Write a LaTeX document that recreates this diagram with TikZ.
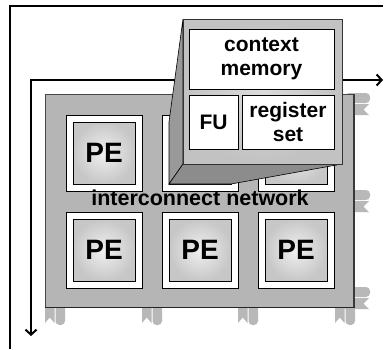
\documentclass[tikz,border=0pt]{standalone}
\usepackage{fontspec}
\setmainfont{Liberation Sans}
\usetikzlibrary{arrows.meta}

\definecolor{panelgray}{gray}{0.71}
\definecolor{tabgray}{gray}{0.72}
\definecolor{pelight}{gray}{0.94}
\definecolor{pedark}{gray}{0.78}
\definecolor{sidegray}{gray}{0.60}
\definecolor{floorgray}{gray}{0.55}
\definecolor{facelight}{gray}{0.86}
\definecolor{facedark}{gray}{0.76}

% wire stub leaving the array at the bottom (x = left edge)
\newcommand\bottomtab[1]{%
  \fill[tabgray] (#1,300) -- (#1+9.5,300) -- (#1+9.5,323) -- (#1+4.75,317.5) -- (#1,323) -- cycle;
  \fill[tabgray, rounded corners=4pt] (#1+10.5,300) rectangle (#1+20,325);
}
% wire stub leaving the array at the right (y = top edge)
\newcommand\sidetab[1]{%
  \fill[tabgray, rounded corners=4pt] (345,#1) rectangle (370,#1+10);
  \fill[tabgray] (345,#1+11) -- (369,#1+11) -- (363.5,#1+16.5) -- (369,#1+22) -- (345,#1+22) -- cycle;
}

\tikzset{
  frameline/.style={line width=2pt, black},
  axisline/.style={line width=2pt, black, {Straight Barb[length=5pt,width=11pt]}-{Straight Barb[length=5pt,width=11pt]}},
  tile/.style={draw=black, line width=0.9pt, fill=white, minimum size=76pt, inner sep=0pt},
  pecore/.style={draw=black, line width=0.9pt, inner color=pelight, outer color=pedark,
    minimum size=62pt, inner sep=0pt, font=\bfseries\fontsize{28}{30}\selectfont},
  cellbox/.style={draw=black, line width=0.8pt, fill=white, inner sep=0pt, align=center,
    font=\bfseries\fontsize{21}{23.5}\selectfont},
  label/.style={font=\bfseries\fontsize{21.5}{24}\selectfont, inner sep=0pt},
}

\begin{document}
\begin{tikzpicture}[x=1pt,y=-1pt]
\useasboundingbox (0,0) rectangle (388,349);
\fill[white] (0,0) rectangle (388,349);

% outer frame
\draw[frameline] (383,6) -- (10,6) -- (10,349);

% coordinate axes
\coordinate (axisdown) at (31,336);
\coordinate (axiscorner) at (31,80);
\coordinate (axisright) at (383,80);
\draw[axisline] (axisdown) -- (axiscorner) -- (axisright);

% wire stubs (drawn first so the array hides their upper ends)
\foreach \xx in {45,142,238,335} {\bottomtab{\xx}}
\foreach \yy in {93,190,287} {\sidetab{\yy}}

% array background
\fill[panelgray] (45,94) rectangle (355,308);
\draw[gray!55!black, line width=0.6pt] (45,308) -- (45,94) -- (354,94);
\draw[gray!45!black, line width=2pt] (354,94) -- (354,307);
\draw[black!85, line width=1.6pt] (45,307.5) -- (355,307.5);

% processing elements (the two upper right ones are partly hidden by the exploded view)
\foreach \c in {0,1,2} {
  \foreach \r in {0,1} {
    \node[tile] (tile\c\r) at (104+96*\c, 153+97*\r) {};
  }
}
\node[pecore] (pe00) at (tile00) {PE};
\node[pecore] (pe10) at (tile10) {};
\node[pecore] (pe20) at (tile20) {};
\node[pecore] (pe01) at (tile01) {PE};
\node[pecore] (pe11) at (tile11) {PE};
\node[pecore] (pe21) at (tile21) {PE};

\node[label] (net) at (200,198) {interconnect network};

% exploded view of one processing element
\coordinate (b1) at (169,122);
\coordinate (b2) at (231,122);
\coordinate (b3) at (231,184);
\coordinate (b4) at (169,184);
\coordinate (f1) at (183,19);
\coordinate (f2) at (342,19);
\coordinate (f3) at (342,164);
\coordinate (f4) at (183,164);
\filldraw[fill=sidegray, draw=black, line width=0.6pt] (b1) -- (f1) -- (f4) -- (b4) -- cycle;
\filldraw[fill=floorgray, draw=black, line width=0.6pt] (b4) -- (f4) -- (f3) -- (b3) -- cycle;
\shade[inner color=facelight, outer color=facedark] (f1) rectangle (f3);
\draw[gray!40!black, line width=0.6pt] (f1) rectangle (f3);

\node[cellbox, minimum width=145pt, minimum height=60pt] (ctx) at (261.5,59) {context\\memory};
\node[cellbox, minimum width=49pt, minimum height=54pt] (fu) at (213.5,122) {FU};
\node[cellbox, minimum width=92pt, minimum height=54pt] (reg) at (288,122) {register\\set};
\end{tikzpicture}
\end{document}
